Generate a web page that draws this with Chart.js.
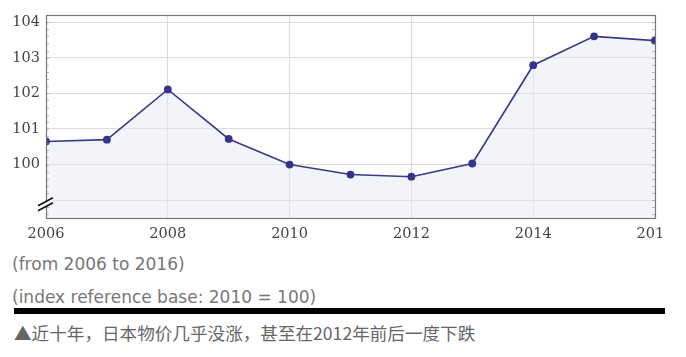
<!DOCTYPE html>
<html>
<head>
<meta charset="utf-8">
<script src="https://cdn.jsdelivr.net/npm/chart.js@4"></script>
<style>
  html,body{margin:0;padding:0;background:#fff;width:686px;height:357px;overflow:hidden;}
  #wrap{position:absolute;left:0;top:0;width:686px;height:250px;}
  #clip{position:absolute;left:664px;top:222px;width:22px;height:28px;background:#fff;}
  .cap{position:absolute;left:12px;font-family:"DejaVu Sans",sans-serif;font-size:17px;color:#777;white-space:nowrap;line-height:20px;}
  #bar{position:absolute;left:14px;top:308px;width:651px;height:6px;background:#000;}
  #note{position:absolute;left:14px;top:322px;font-family:"Noto Sans CJK SC",sans-serif;font-size:17.6px;color:#666;white-space:nowrap;line-height:22px;}
</style>
</head>
<body>
<div id="wrap"><canvas id="c" width="686" height="250"></canvas></div>
<div id="clip"></div>
<div class="cap" style="top:254px">(from 2006 to 2016)</div>
<div class="cap" style="top:287px">(index reference base: 2010 = 100)</div>
<div id="bar"></div>
<div id="note">▲近十年，日本物价几乎没涨，甚至在2012年前后一度下跌</div>
<script>
const years = [2006,2007,2008,2009,2010,2011,2012,2013,2014,2015,2016];
const cpi = [100.65,100.70,102.11,100.72,100.00,99.72,99.66,100.03,102.79,103.60,103.48];
const xTicks = [2006,2008,2010,2012,2014,2016];
const yTicks = [99,100,101,102,103,104];
const yLabels = ['', '100', '101', '102', '103', '104'];

const frame = {
  id:'frame',
  afterDatasetsDraw(chart){
    const {ctx, chartArea:a, scales:{y}} = chart;
    ctx.save();
    ctx.strokeStyle = 'rgba(120,120,120,0.5)';
    ctx.lineWidth = 1;
    for(let v = 98.6; v < 104.2; v += 0.2){
      const p = Math.round(y.getPixelForValue(v)) + 0.5;
      ctx.beginPath();
      ctx.moveTo(a.left, p); ctx.lineTo(a.left + 3, p);
      ctx.moveTo(a.right, p); ctx.lineTo(a.right - 3, p);
      ctx.stroke();
    }
    ctx.strokeStyle = '#777';
    ctx.lineWidth = 1.2;
    ctx.strokeRect(a.left + 0.5, a.top + 0.5, a.right - a.left, a.bottom - a.top);
    const yb = y.getPixelForValue(98.9);
    ctx.fillStyle = '#fff';
    ctx.beginPath();
    ctx.moveTo(a.left - 8, yb + 7); ctx.lineTo(a.left + 7, yb - 1);
    ctx.lineTo(a.left + 7, yb - 6); ctx.lineTo(a.left - 8, yb + 2);
    ctx.closePath(); ctx.fill();
    ctx.strokeStyle = '#111';
    ctx.lineWidth = 1.6;
    ctx.beginPath();
    ctx.moveTo(a.left - 8, yb + 2); ctx.lineTo(a.left + 7, yb - 6);
    ctx.moveTo(a.left - 8, yb + 7); ctx.lineTo(a.left + 7, yb - 1);
    ctx.stroke();
    ctx.restore();
  }
};

new Chart(document.getElementById('c'), {
  type:'line',
  data:{
    datasets:[{
      data: years.map((x,i)=>({x, y: cpi[i]})),
      borderColor:'#3b3a86',
      backgroundColor:'rgba(226,230,243,0.45)',
      borderWidth:1.6,
      fill:'start',
      tension:0,
      pointRadius:3.9,
      pointBackgroundColor:'#35348a',
      pointBorderColor:'#35348a',
      pointBorderWidth:0
    }]
  },
  options:{
    responsive:false,
    animation:false,
    layout:{padding:{top:15,left:0,right:31,bottom:0}},
    plugins:{legend:{display:false},tooltip:{enabled:false}},
    scales:{
      x:{
        type:'linear', min:2006, max:2016,
        afterBuildTicks(s){ s.ticks = xTicks.map(v=>({value:v})); },
        afterFit(s){ s.height = 32; },
        grid:{color:'#dcdcdc', drawTicks:false, lineWidth:1},
        border:{display:false},
        ticks:{font:{family:'DejaVu Serif', size:14.5}, color:'#444', padding:8, maxRotation:0, callback:v=>String(v)}
      },
      y:{
        min:98.5, max:104.2,
        afterBuildTicks(s){ s.ticks = yTicks.map(v=>({value:v})); },
        afterFit(s){ s.width = 46; },
        grid:{color:'#dcdcdc', drawTicks:false, lineWidth:1},
        border:{display:false},
        ticks:{font:{family:'DejaVu Serif', size:14.5}, color:'#444', padding:6,
          callback:(v)=>{ const i = yTicks.indexOf(v); return i>=0 ? yLabels[i] : ''; }}
      }
    }
  },
  plugins:[frame]
});
</script>
</body>
</html>
